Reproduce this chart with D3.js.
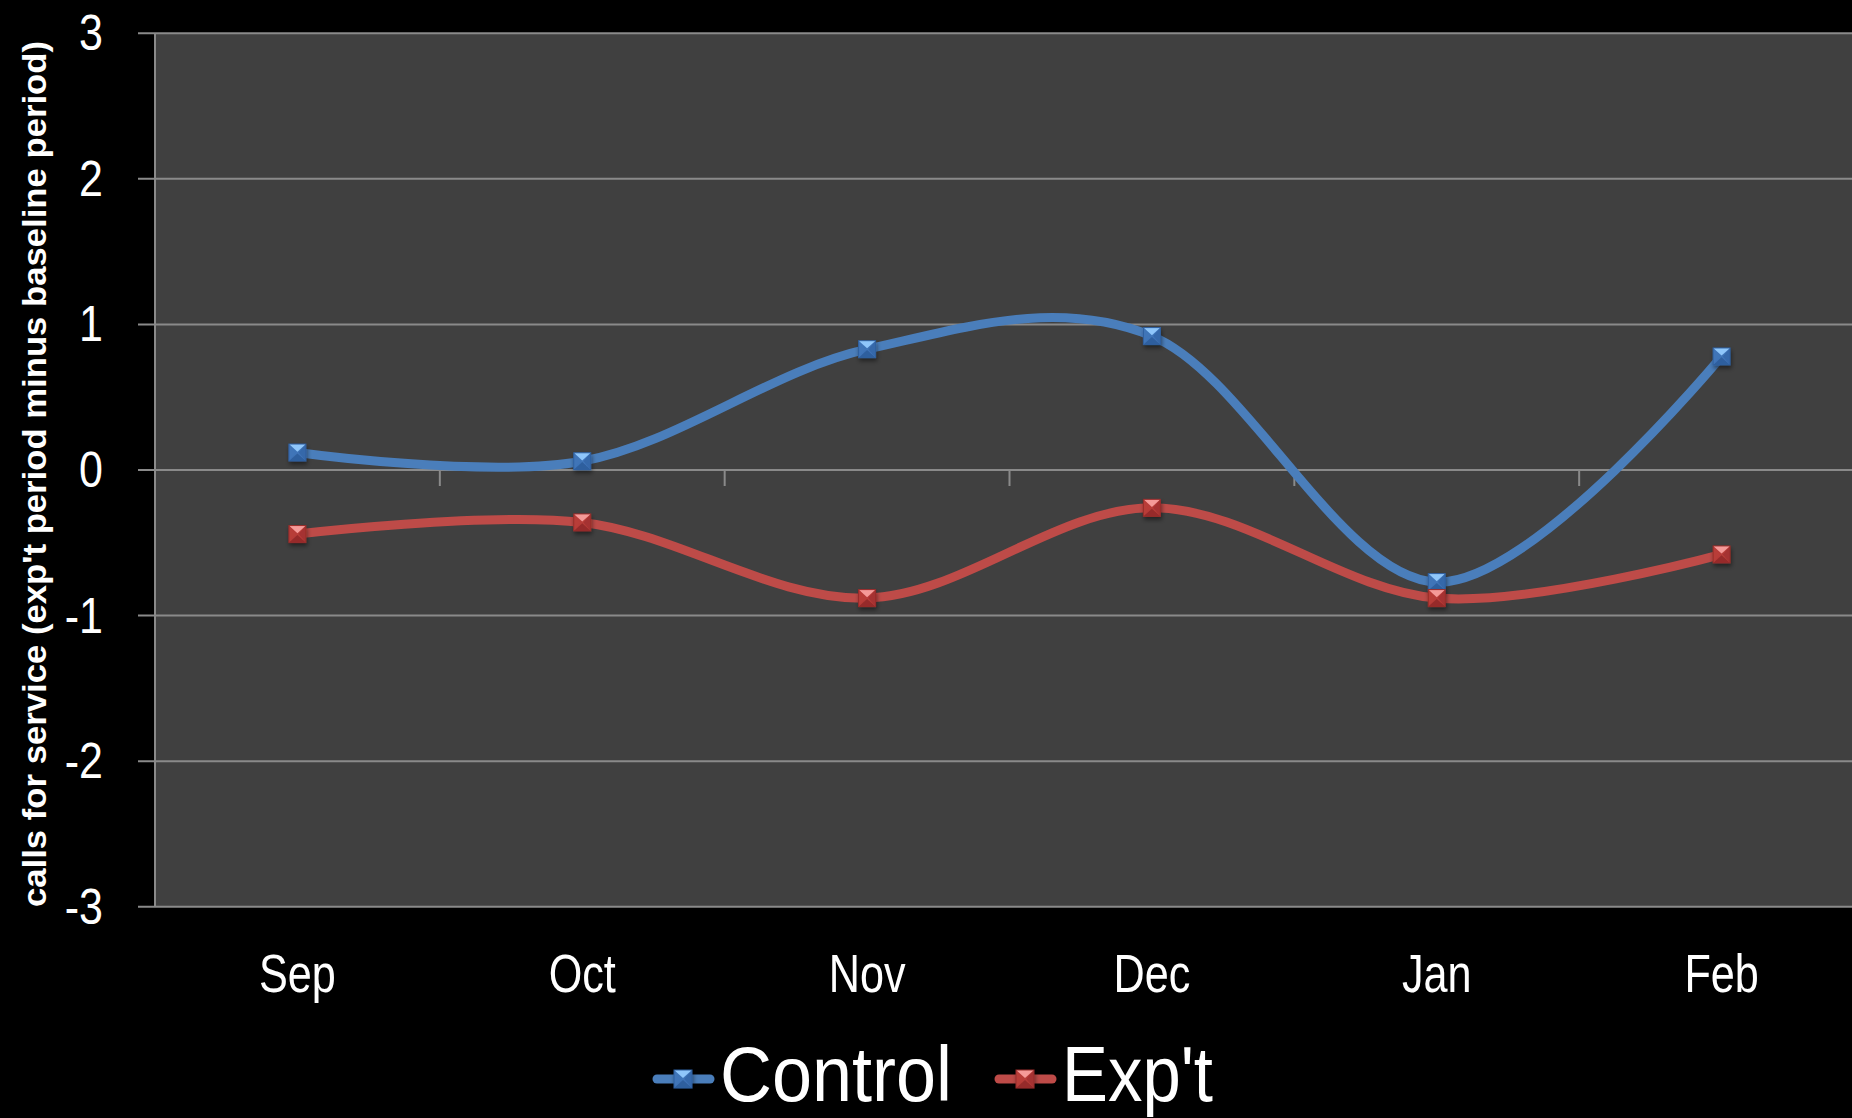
<!DOCTYPE html>
<html>
<head>
<meta charset="utf-8">
<script src="https://cdn.jsdelivr.net/npm/d3@7"></script>
<style>
  html, body { margin: 0; padding: 0; background: #000; overflow: hidden; }
  svg { display: block; }
  text { font-family: "Liberation Sans", Arial, sans-serif; fill: #fff; }
</style>
</head>
<body>
<svg id="chart" width="1852" height="1118"></svg>
<script>
// Monthly change in calls for service
const months = ["Sep", "Oct", "Nov", "Dec", "Jan", "Feb"];
const controlValues = [0.12, 0.06, 0.83, 0.92, -0.77, 0.78];
const exptValues = [-0.44, -0.36, -0.88, -0.26, -0.88, -0.58];
const yTicks = [-3, -2, -1, 0, 1, 2, 3];
const seriesNames = ["Control", "Exp't"];
const yTitle = "calls for service (exp't period minus baseline period)";

const series = [
  { name: seriesNames[0], values: controlValues, line: "#4a7ebb", dark: "#2f5f9e", mid: "#3f74b8", light: "#8fc6fa" },
  { name: seriesNames[1], values: exptValues, line: "#be4b48", dark: "#962c2a", mid: "#b83c39", light: "#f59a98" }
];

const svg = d3.select("#chart");
const W = 1852, H = 1118;
const plot = { left: 155, right: 1864, top: 33.3, bottom: 906.7 };

svg.append("rect").attr("width", W).attr("height", H).attr("fill", "#000");

const x = d3.scaleBand().domain(months).range([plot.left, plot.right]).padding(0);
const y = d3.scaleLinear().domain([-3, 3]).range([plot.bottom, plot.top]);
const cx = m => x(m) + x.bandwidth() / 2;

// plot area
svg.append("rect")
  .attr("x", plot.left).attr("y", plot.top)
  .attr("width", plot.right - plot.left).attr("height", plot.bottom - plot.top)
  .attr("fill", "#404040");

// value axis with gridlines
const gridColor = "#8a8a8a";
svg.append("g").selectAll("line").data(yTicks).join("line")
  .attr("x1", plot.left - 17).attr("x2", plot.right)
  .attr("y1", d => y(d)).attr("y2", d => y(d))
  .attr("stroke", gridColor).attr("stroke-width", 2);

svg.append("line")
  .attr("x1", plot.left).attr("x2", plot.left)
  .attr("y1", plot.top).attr("y2", plot.bottom)
  .attr("stroke", gridColor).attr("stroke-width", 2);

// value tick labels (slightly condensed)
svg.append("g").selectAll("text").data(yTicks).join("text")
  .attr("transform", d => `translate(103,${y(d)}) scale(0.86,1)`)
  .attr("dy", "0.34em")
  .attr("text-anchor", "end")
  .attr("font-size", 50)
  .text(d => d < 0 ? "-" + Math.abs(d) : d);

// category tick marks on the zero line
svg.append("g").selectAll("line").data(months.slice(1)).join("line")
  .attr("x1", d => x(d)).attr("x2", d => x(d))
  .attr("y1", y(0)).attr("y2", y(0) + 16)
  .attr("stroke", gridColor).attr("stroke-width", 2);

// category labels
svg.append("g").selectAll("text").data(months).join("text")
  .attr("transform", d => `translate(${cx(d)},992) scale(0.8,1)`)
  .attr("text-anchor", "middle")
  .attr("font-size", 54)
  .text(d => d);

// y axis title
svg.append("text")
  .attr("transform", `translate(46, ${(41 + 907) / 2}) rotate(-90)`)
  .attr("text-anchor", "middle")
  .attr("font-size", 33)
  .attr("font-weight", "bold")
  .attr("textLength", 866)
  .attr("lengthAdjust", "spacingAndGlyphs")
  .text(yTitle);

// marker shadow
const defs = svg.append("defs");
const f = defs.append("filter").attr("id", "shadow").attr("x", "-50%").attr("y", "-50%").attr("width", "200%").attr("height", "200%");
f.append("feDropShadow").attr("dx", 1).attr("dy", 3).attr("stdDeviation", 2).attr("flood-color", "#000").attr("flood-opacity", 0.45);

// bevelled square marker
function marker(g, s, px, py, size) {
  const h = size / 2;
  const m = g.append("g").attr("transform", `translate(${px},${py})`).attr("filter", "url(#shadow)");
  m.append("rect").attr("x", -h).attr("y", -h).attr("width", size).attr("height", size).attr("fill", s.mid);
  m.append("path").attr("d", `M${-h},${-h}L${h},${-h}L0,${-h * 0.1}Z`).attr("fill", s.light);
  m.append("path").attr("d", `M${-h},${h}L${h},${h}L0,${h * 0.1}Z`).attr("fill", s.dark);
  m.append("path").attr("d", `M${-h},${-h}L${-h * 0.15},0L${-h},${h}Z`).attr("fill", s.mid);
  m.append("path").attr("d", `M${h},${-h}L${h * 0.15},0L${h},${h}Z`).attr("fill", s.dark).attr("opacity", 0.55);
  m.append("rect").attr("x", -h).attr("y", -h).attr("width", size).attr("height", size)
    .attr("fill", "none").attr("stroke", s.dark).attr("stroke-width", 1);
}

const line = d3.line()
  .x((d, i) => cx(months[i]))
  .y(d => y(d))
  .curve(d3.curveCardinal.tension(0));

const gSeries = svg.append("g");
series.forEach(s => {
  gSeries.append("path")
    .datum(s.values)
    .attr("d", line)
    .attr("fill", "none")
    .attr("stroke", s.line)
    .attr("stroke-width", 9)
    .attr("stroke-linecap", "round")
    .attr("stroke-linejoin", "round");
});
series.forEach(s => {
  s.values.forEach((v, i) => marker(gSeries, s, cx(months[i]), y(v), 17));
});

// legend
const legend = svg.append("g");
const legendLayout = [
  { symX: 653, textX: 720, textLen: 232 },
  { symX: 995, textX: 1062, textLen: 151 }
];
series.forEach((s, i) => {
  const L = legendLayout[i];
  const ly = 1079;
  legend.append("line")
    .attr("x1", L.symX + 4).attr("x2", L.symX + 57)
    .attr("y1", ly).attr("y2", ly)
    .attr("stroke", s.line).attr("stroke-width", 9).attr("stroke-linecap", "round");
  marker(legend, s, L.symX + 30, ly, 18);
  legend.append("text")
    .attr("x", L.textX).attr("y", 1101)
    .attr("font-size", 77)
    .attr("textLength", L.textLen)
    .attr("lengthAdjust", "spacingAndGlyphs")
    .text(s.name);
});
</script>
</body>
</html>
